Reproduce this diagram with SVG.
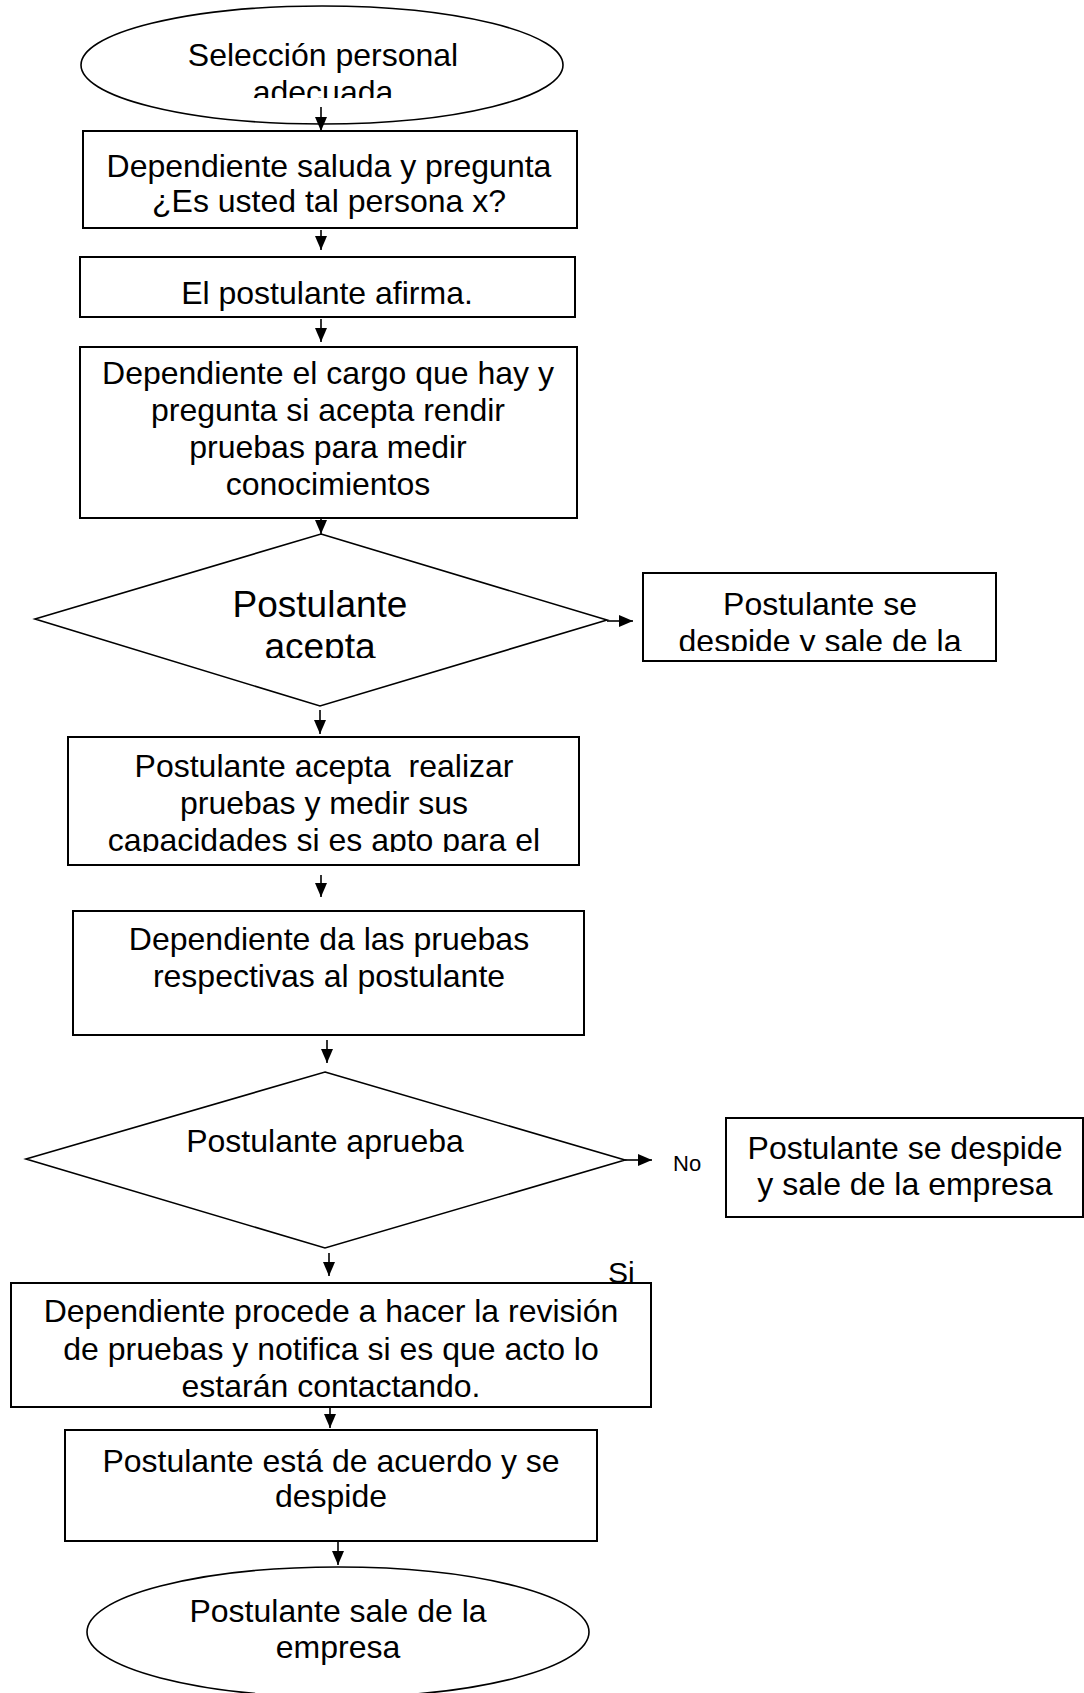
<svg xmlns="http://www.w3.org/2000/svg" width="1084" height="1693" viewBox="0 0 1084 1693">
<style>
.shape{fill:#fff;stroke:#000;stroke-width:2}
.thin{fill:#fff;stroke:#000;stroke-width:1.6}
.t{font-family:"Liberation Sans",Arial,sans-serif;font-size:32px;fill:#000;text-anchor:middle}
.big{font-size:37px}
.small{font-size:22px;text-anchor:start}
.conn{stroke:#000;stroke-width:1.6;fill:none;marker-end:url(#ah)}
</style>
<defs>
<marker id="ah" markerUnits="userSpaceOnUse" markerWidth="14" markerHeight="12" refX="14" refY="6" orient="auto">
<path d="M0,0 L14,6 L0,12 Z" fill="#000"/>
</marker>
<clipPath id="c1"><rect x="0" y="0" width="1084" height="98"/></clipPath>
<clipPath id="c2"><rect x="0" y="540" width="1084" height="118"/></clipPath>
<clipPath id="c3"><rect x="0" y="580" width="1084" height="71"/></clipPath>
<clipPath id="c4"><rect x="0" y="740" width="1084" height="112"/></clipPath>
</defs>
<rect width="1084" height="1693" fill="#fff"/>

<g id="n1">
<ellipse class="thin" cx="322" cy="65" rx="241" ry="59"/>
<g clip-path="url(#c1)">
<text class="t" x="323" y="66">Selección personal</text>
<text class="t" x="323" y="103">adecuada</text>
</g>
</g>

<g id="n2">
<rect class="shape" x="83" y="131" width="494" height="97"/>
<text class="t" x="329" y="177">Dependiente saluda y pregunta</text>
<text class="t" x="329" y="212">¿Es usted tal persona x?</text>
</g>

<g id="n3">
<rect class="shape" x="80" y="257" width="495" height="60"/>
<text class="t" x="327" y="304">El postulante afirma.</text>
</g>

<g id="n4">
<rect class="shape" x="80" y="347" width="497" height="171"/>
<text class="t" x="328" y="384">Dependiente el cargo que hay y</text>
<text class="t" x="328" y="421">pregunta si acepta rendir</text>
<text class="t" x="328" y="458">pruebas para medir</text>
<text class="t" x="328" y="495">conocimientos</text>
</g>

<g id="n5">
<polygon class="thin" points="321,534 607,620 320,706 35,619"/>
<g clip-path="url(#c2)">
<text class="t big" x="320" y="617">Postulante</text>
<text class="t big" x="320" y="659">acepta</text>
</g>
</g>

<g id="n6">
<rect class="shape" x="643" y="573" width="353" height="88"/>
<g clip-path="url(#c3)">
<text class="t" x="820" y="615">Postulante se</text>
<text class="t" x="820" y="652">despide y sale de la</text>
</g>
</g>

<g id="n7">
<rect class="shape" x="68" y="737" width="511" height="128"/>
<g clip-path="url(#c4)">
<text class="t" x="324" y="777" xml:space="preserve">Postulante acepta  realizar</text>
<text class="t" x="324" y="814">pruebas y medir sus</text>
<text class="t" x="324" y="851">capacidades si es apto para el</text>
</g>
</g>

<g id="n8">
<rect class="shape" x="73" y="911" width="511" height="124"/>
<text class="t" x="329" y="950">Dependiente da las pruebas</text>
<text class="t" x="329" y="987">respectivas al postulante</text>
</g>

<g id="n9">
<polygon class="thin" points="325,1072 625,1160 325,1248 26,1159"/>
<text class="t" x="325" y="1152">Postulante aprueba</text>
</g>

<g id="n10">
<rect class="shape" x="726" y="1118" width="357" height="99"/>
<text class="t" x="905" y="1159">Postulante se despide</text>
<text class="t" x="905" y="1195">y sale de la empresa</text>
</g>

<g id="n11">
<rect class="shape" x="11" y="1283" width="640" height="124"/>
<text class="t" x="331" y="1322">Dependiente procede a hacer la revisión</text>
<text class="t" x="331" y="1360">de pruebas y notifica si es que acto lo</text>
<text class="t" x="331" y="1397">estarán contactando.</text>
</g>

<g id="n12">
<rect class="shape" x="65" y="1430" width="532" height="111"/>
<text class="t" x="331" y="1472">Postulante está de acuerdo y se</text>
<text class="t" x="331" y="1507">despide</text>
</g>

<g id="n13">
<ellipse class="thin" cx="338" cy="1632" rx="251" ry="65"/>
<text class="t" x="338" y="1622">Postulante sale de la</text>
<text class="t" x="338" y="1658">empresa</text>
</g>

<g id="labels">
<text class="t small" x="673" y="1171">No</text>
<text class="t" x="608" y="1283" style="text-anchor:start;font-size:30px">Si</text>
</g>

<g id="connectors">
<line class="conn" x1="321" y1="107" x2="321" y2="131"/>
<line class="conn" x1="321" y1="230" x2="321" y2="250"/>
<line class="conn" x1="321" y1="319" x2="321" y2="342"/>
<line class="conn" x1="321" y1="519" x2="321" y2="534"/>
<line class="conn" x1="607" y1="621" x2="633" y2="621"/>
<line class="conn" x1="320" y1="710" x2="320" y2="734"/>
<line class="conn" x1="321" y1="875" x2="321" y2="897"/>
<line class="conn" x1="327" y1="1040" x2="327" y2="1063"/>
<line class="conn" x1="625" y1="1160" x2="652" y2="1160"/>
<line class="conn" x1="329" y1="1253" x2="329" y2="1276"/>
<line class="conn" x1="330" y1="1408" x2="330" y2="1428"/>
<line class="conn" x1="338" y1="1542" x2="338" y2="1565"/>
</g>
</svg>
